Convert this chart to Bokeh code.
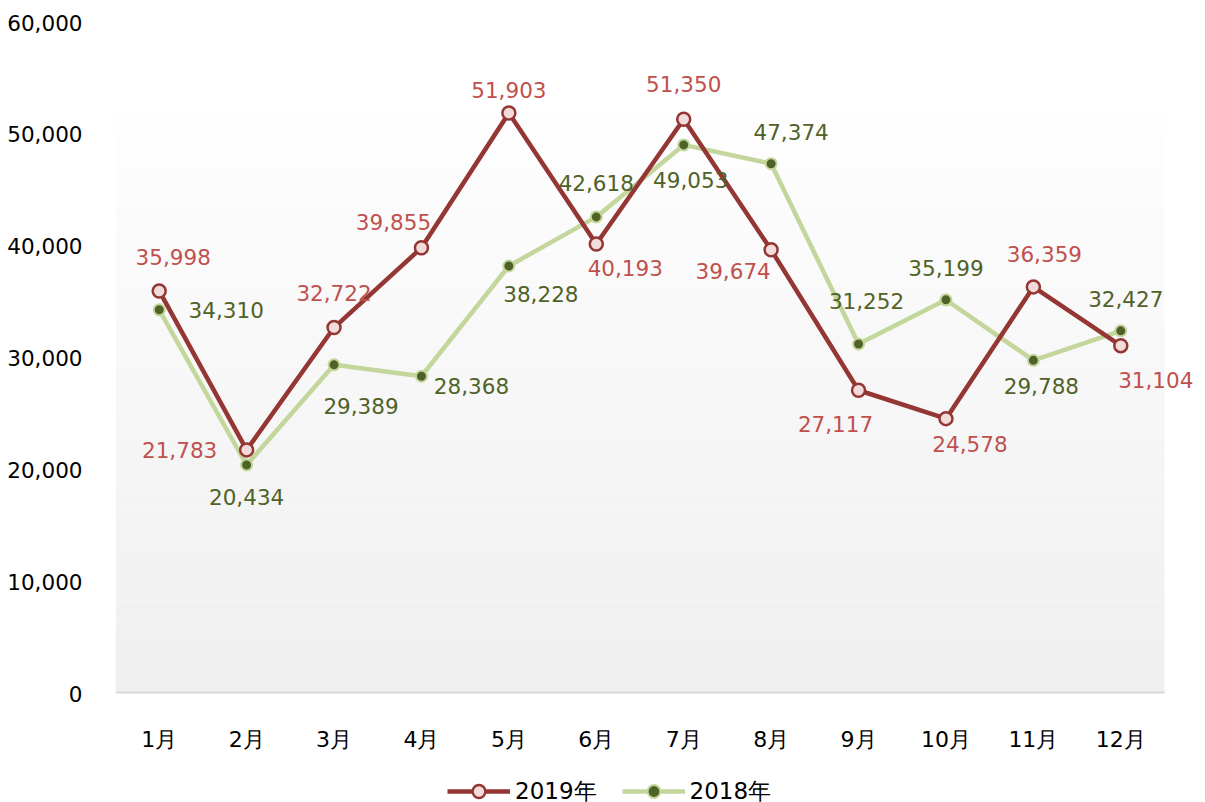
from bokeh.plotting import figure
from bokeh.layouts import column
from bokeh.models import (ColumnDataSource, Range1d, FixedTicker,
                          NumeralTickFormatter, Legend, LegendItem, BoxAnnotation)
from bokeh.core.properties import value
from bokeh.embed import file_html
from bokeh.resources import INLINE

months = ["1月", "2月", "3月", "4月", "5月", "6月", "7月", "8月", "9月", "10月", "11月", "12月"]
y2019 = [35998, 21783, 32722, 39855, 51903, 40193, 51350, 39674, 27117, 24578, 36359, 31104]
y2018 = [34310, 20434, 29389, 28368, 38228, 42618, 49053, 47374, 31252, 35199, 29788, 32427]
y_ticks = [0, 10000, 20000, 30000, 40000, 50000, 60000]
series_names = ["2019年", "2018年"]

# label offsets in screen pixels (styling)
dx2019 = [14, -67, 0, -28, 0, 29, 0, -38, -23, 24, 11, 35]
dy2019 = [-34, 0, -35, -26, -23, 24, -35, 21, 34, 25, -33, 34]
dx2018 = [67, 0, 27, 50, 32, 0, 7, 20, 8, 0, 8, 5]
dy2018 = [0, 32, 41, 10, 28, -34, 35, -32, -43, -32, 26, -32]

RED = "#943634"
RED_FILL = "#f2dcdb"
RED_TXT = "#c0504d"
GREEN = "#c3d69b"
GREEN_DK = "#4f6228"
FONT = "DejaVu Sans"
FS = "21.5px"

xpos = [months.index(m) for m in months]
n_cat = len(months)
cat_px = 1049 / n_cat
x_end = n_cat - 0.5 + 41 / cat_px

p = figure(x_range=Range1d(-0.5, x_end), y_range=Range1d(0, 60000),
           frame_width=1090, frame_height=671, min_border_left=115, min_border_right=0,
           min_border_top=22, min_border_bottom=67,
           output_backend="svg", toolbar_location=None)
p.outline_line_color = None
p.background_fill_color = "white"
p.border_fill_color = "white"
p.xgrid.grid_line_color = None
p.ygrid.grid_line_color = None

# plot-area gradient (white near the top -> light grey at the bottom)
nb = 50
g_top = 52000
for i in range(nb):
    lo = g_top * i / nb
    hi = g_top * (i + 1) / nb
    t = (lo + hi) / 2 / g_top
    c = int(round(0xef + (0xfe - 0xef) * t))
    p.add_layout(BoxAnnotation(left=-0.5, right=n_cat - 0.5, bottom=lo, top=hi,
                               fill_color="#%02x%02x%02x" % (c, c, c),
                               fill_alpha=1, line_alpha=0, level="underlay"))

# category axis baseline (plot area bottom edge)
p.segment(x0=[-0.5], y0=[0], x1=[n_cat - 0.5], y1=[0], line_color="#d9d9d9", line_width=4)

src19 = ColumnDataSource(dict(x=xpos, y=y2019, lab=[f"{v:,}" for v in y2019], dx=dx2019, dy=dy2019))
src18 = ColumnDataSource(dict(x=xpos, y=y2018, lab=[f"{v:,}" for v in y2018], dx=dx2018, dy=dy2018))

p.line("x", "y", source=src18, line_color=GREEN, line_width=4.5)
p.line("x", "y", source=src19, line_color=RED, line_width=4.5)
p.scatter("x", "y", source=src18, size=11, fill_color=GREEN_DK, line_color=GREEN, line_width=2)
p.scatter("x", "y", source=src19, size=13, fill_color=RED_FILL, line_color=RED, line_width=2.5)

p.text("x", "y", text="lab", source=src19, x_offset="dx", y_offset="dy",
       text_align="center", text_baseline="middle", text_color=RED_TXT,
       text_font=value(FONT), text_font_size=FS)
p.text("x", "y", text="lab", source=src18, x_offset="dx", y_offset="dy",
       text_align="center", text_baseline="middle", text_color=GREEN_DK,
       text_font=value(FONT), text_font_size=FS)

# axes
p.yaxis.ticker = FixedTicker(ticks=y_ticks)
p.yaxis.formatter = NumeralTickFormatter(format="0,0")
p.yaxis.axis_line_color = None
p.yaxis.major_tick_line_color = None
p.yaxis.minor_tick_line_color = None
p.yaxis.major_label_standoff = 27
p.yaxis.major_label_text_font = FONT
p.yaxis.major_label_text_font_size = FS
p.yaxis.major_label_text_color = "#000000"

p.xaxis.ticker = FixedTicker(ticks=xpos)
p.xaxis.major_label_overrides = {i: m for i, m in zip(xpos, months)}
p.xaxis.axis_line_color = None
p.xaxis.major_tick_line_color = None
p.xaxis.minor_tick_line_color = None
p.xaxis.major_label_standoff = 27
p.xaxis.major_label_text_font = FONT
p.xaxis.major_label_text_font_size = "22px"
p.xaxis.major_label_text_color = "#000000"

# legend strip below the chart (legend-only renderers, placed outside the visible range)
q = figure(x_range=Range1d(0, 1), y_range=Range1d(0, 1), frame_width=1205, frame_height=42,
           min_border_left=0, min_border_right=0, min_border_top=0, min_border_bottom=0,
           x_axis_type=None, y_axis_type=None, output_backend="svg", toolbar_location=None)
q.outline_line_color = None
q.xgrid.grid_line_color = None
q.ygrid.grid_line_color = None
off = dict(x=[-5, -4], y=[-5, -5])
ql19 = q.line(x=off["x"], y=off["y"], line_color=RED, line_width=4.5)
qm19 = q.scatter(x=off["x"], y=off["y"], size=13, fill_color=RED_FILL, line_color=RED, line_width=2.5)
ql18 = q.line(x=off["x"], y=off["y"], line_color=GREEN, line_width=4.5)
qm18 = q.scatter(x=off["x"], y=off["y"], size=11, fill_color=GREEN_DK, line_color=GREEN, line_width=2)

legend = Legend(items=[LegendItem(label=series_names[0], renderers=[ql19, qm19]),
                       LegendItem(label=series_names[1], renderers=[ql18, qm18])],
                orientation="horizontal", location=(447, -5),
                glyph_width=63, glyph_height=32, label_height=32,
                label_standoff=5, spacing=25, padding=0, margin=0,
                border_line_color=None, background_fill_alpha=0,
                label_text_font=FONT, label_text_font_size="23px",
                label_text_color="#000000")
q.add_layout(legend, "center")

layout = column(p, q, spacing=0)
open("out.html", "w").write(file_html(layout, INLINE))
